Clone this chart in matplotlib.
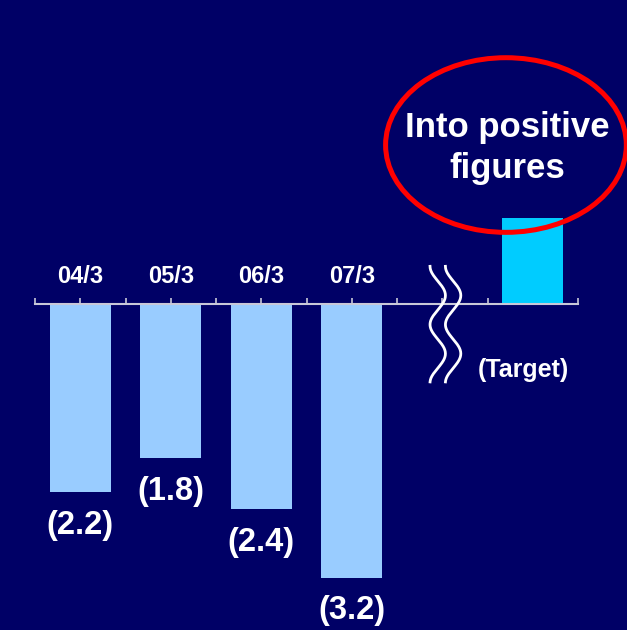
import numpy as np
import matplotlib
matplotlib.use("Agg")
import matplotlib.pyplot as plt
from matplotlib.patches import Ellipse

# Fiscal year-end results and target
categories = ["04/3", "05/3", "06/3", "07/3"]
values = [-2.2, -1.8, -2.4, -3.2]
target_value = 1.0
target_label = "(Target)"
callout_text = "Into positive\nfigures"

BG = "#000066"
BAR = "#99CCFF"
TARGET = "#00CCFF"
AXIS = "#C8C8D8"

plt.rcParams["font.family"] = ["Liberation Sans", "DejaVu Sans"]

fig = plt.figure(figsize=(6.27, 6.30), dpi=100, facecolor=BG)
ax = fig.add_axes([35 / 627, 0, 543 / 627, 1])
ax.set_facecolor(BG)

x = np.arange(len(categories))
target_x = len(categories) + 1
bar_w = 0.67

ax.bar(x, values, width=bar_w, color=BAR, zorder=2)
ax.bar([target_x], [target_value], width=bar_w, color=TARGET, zorder=2)

ax.set_xlim(-0.5, target_x + 0.5)
ax.set_ylim(-3.808, 3.551)

# value labels under each bar
for xi, v in zip(x, values):
    ax.text(xi, v - 0.385, f"({abs(v):.1f})", ha="center", va="center",
            color="white", fontsize=23.5, fontweight="bold", zorder=4)

# category labels above the axis
for xi, c in zip(x, categories):
    ax.text(xi, 0.327, c, ha="center", va="center", color="white",
            fontsize=17, fontweight="bold", zorder=4)

ax.text(target_x - 0.1, -0.77, target_label, ha="center", va="center",
        color="white", fontsize=18, fontweight="bold", zorder=4)

# axis line with half-category ticks
for s in ["top", "right", "left"]:
    ax.spines[s].set_visible(False)
ax.spines["bottom"].set_position(("data", 0))
ax.spines["bottom"].set_color(AXIS)
ax.spines["bottom"].set_linewidth(1.5)
ax.spines["bottom"].set_zorder(3)
ax.set_xticks(np.arange(-0.5, target_x + 0.51, 0.5))
ax.tick_params(axis="x", direction="in", length=4, width=1.2, color=AXIS,
               labelbottom=False)
ax.set_yticks([])

# wavy axis-break marks
yy = np.linspace(0.44, -0.91, 200)
phase = (0.44 - yy) / 0.34
xw = 3.95 + 0.085 * (1 - np.cos(np.pi * phase)) - 0.085
for dx in (0.0, 0.17):
    ax.plot(xw + dx, yy, color="white", lw=2, zorder=5, clip_on=False)

# callout ellipse
ax.add_patch(Ellipse((4.704, 1.857), 2.66, 2.04, fill=False,
                     edgecolor="red", lw=3.6, zorder=6, clip_on=False))
ax.text(4.715, 1.82, callout_text, ha="center", va="center", color="white",
        fontsize=25, fontweight="bold", linespacing=1.32, zorder=6)

fig.savefig("out.png", dpi=100, facecolor=BG)
